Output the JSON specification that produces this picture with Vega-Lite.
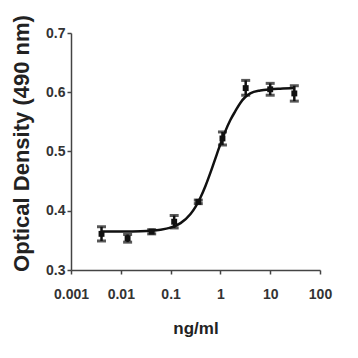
{
  "$schema": "https://vega.github.io/schema/vega-lite/v6.json",
  "autosize": "none",
  "width": 249,
  "height": 237,
  "padding": {"left": 71, "top": 33, "right": 38, "bottom": 88},
  "background": "white",
  "config": {
    "view": {"stroke": null},
    "font": "Liberation Sans",
    "axis": {
      "domainColor": "#444",
      "tickColor": "#444",
      "domainWidth": 1.5,
      "tickWidth": 1.5,
      "tickSize": 4,
      "grid": false,
      "labelFlush": false,
      "labelOverlap": false,
      "labelFont": "Liberation Sans",
      "labelFontWeight": "bold",
      "labelColor": "#333",
      "labelFontSize": 14,
      "titleFont": "Liberation Sans",
      "titleFontWeight": "bold",
      "titleColor": "#222"
    }
  },
  "datasets": {
    "points": [
      {"conc": 0.0041, "od": 0.361, "lo": 0.349, "hi": 0.373},
      {"conc": 0.0137, "od": 0.3535, "lo": 0.347, "hi": 0.360},
      {"conc": 0.0417, "od": 0.3647, "lo": 0.361, "hi": 0.368},
      {"conc": 0.118, "od": 0.3815, "lo": 0.371, "hi": 0.392},
      {"conc": 0.36, "od": 0.415, "lo": 0.412, "hi": 0.418},
      {"conc": 1.1, "od": 0.522, "lo": 0.511, "hi": 0.533},
      {"conc": 3.22, "od": 0.607, "lo": 0.595, "hi": 0.620},
      {"conc": 10, "od": 0.605, "lo": 0.595, "hi": 0.615},
      {"conc": 30.5, "od": 0.598, "lo": 0.585, "hi": 0.611}
    ],
    "curve": [
      {"conc": 0.00398, "od": 0.365},
      {"conc": 0.01, "od": 0.3651},
      {"conc": 0.0251, "od": 0.3656},
      {"conc": 0.0631, "od": 0.368},
      {"conc": 0.1, "od": 0.3715},
      {"conc": 0.1585, "od": 0.3791},
      {"conc": 0.2512, "od": 0.3945},
      {"conc": 0.3162, "od": 0.4066},
      {"conc": 0.3981, "od": 0.4224},
      {"conc": 0.5012, "od": 0.4418},
      {"conc": 0.631, "od": 0.4643},
      {"conc": 0.7943, "od": 0.4885},
      {"conc": 1, "od": 0.5124},
      {"conc": 1.259, "od": 0.5344},
      {"conc": 1.585, "od": 0.5531},
      {"conc": 1.995, "od": 0.5681},
      {"conc": 2.512, "od": 0.582},
      {"conc": 3.162, "od": 0.592},
      {"conc": 3.981, "od": 0.598},
      {"conc": 6.31, "od": 0.603},
      {"conc": 10, "od": 0.605},
      {"conc": 15.85, "od": 0.606},
      {"conc": 31.62, "od": 0.607}
    ]
  },
  "encoding": {
    "x": {
      "field": "conc", "type": "quantitative",
      "scale": {"type": "log", "domain": [0.001, 100], "nice": false},
      "axis": {"values": [0.001, 0.01, 0.1, 1, 10, 100], "format": "~g", "title": "ng/ml", "titleFontSize": 17, "labelPadding": 13, "titlePadding": 19}
    },
    "y": {
      "field": "od", "type": "quantitative",
      "scale": {"domain": [0.3, 0.7], "nice": false, "zero": false},
      "axis": {"values": [0.3, 0.4, 0.5, 0.6, 0.7], "format": ".1f", "title": "Optical Density (490 nm)", "titleFontSize": 22, "titleY": 110, "labelPadding": 2, "titlePadding": 12}
    }
  },
  "layer": [
    {
      "data": {"name": "curve"},
      "mark": {"type": "line", "color": "#111", "strokeWidth": 2.5, "interpolate": "monotone"}
    },
    {
      "data": {"name": "points"},
      "mark": {"type": "rule", "color": "#111", "strokeWidth": 2.5},
      "encoding": {"y": {"field": "lo", "type": "quantitative"}, "y2": {"field": "hi"}}
    },
    {
      "data": {"name": "points"},
      "mark": {"type": "tick", "color": "#111", "orient": "horizontal", "size": 9, "thickness": 3},
      "encoding": {"y": {"field": "lo", "type": "quantitative"}}
    },
    {
      "data": {"name": "points"},
      "mark": {"type": "tick", "color": "#111", "orient": "horizontal", "size": 9, "thickness": 3},
      "encoding": {"y": {"field": "hi", "type": "quantitative"}}
    },
    {
      "data": {"name": "points"},
      "mark": {"type": "point", "shape": "square", "filled": true, "color": "#111", "size": 35, "opacity": 1}
    }
  ]
}
